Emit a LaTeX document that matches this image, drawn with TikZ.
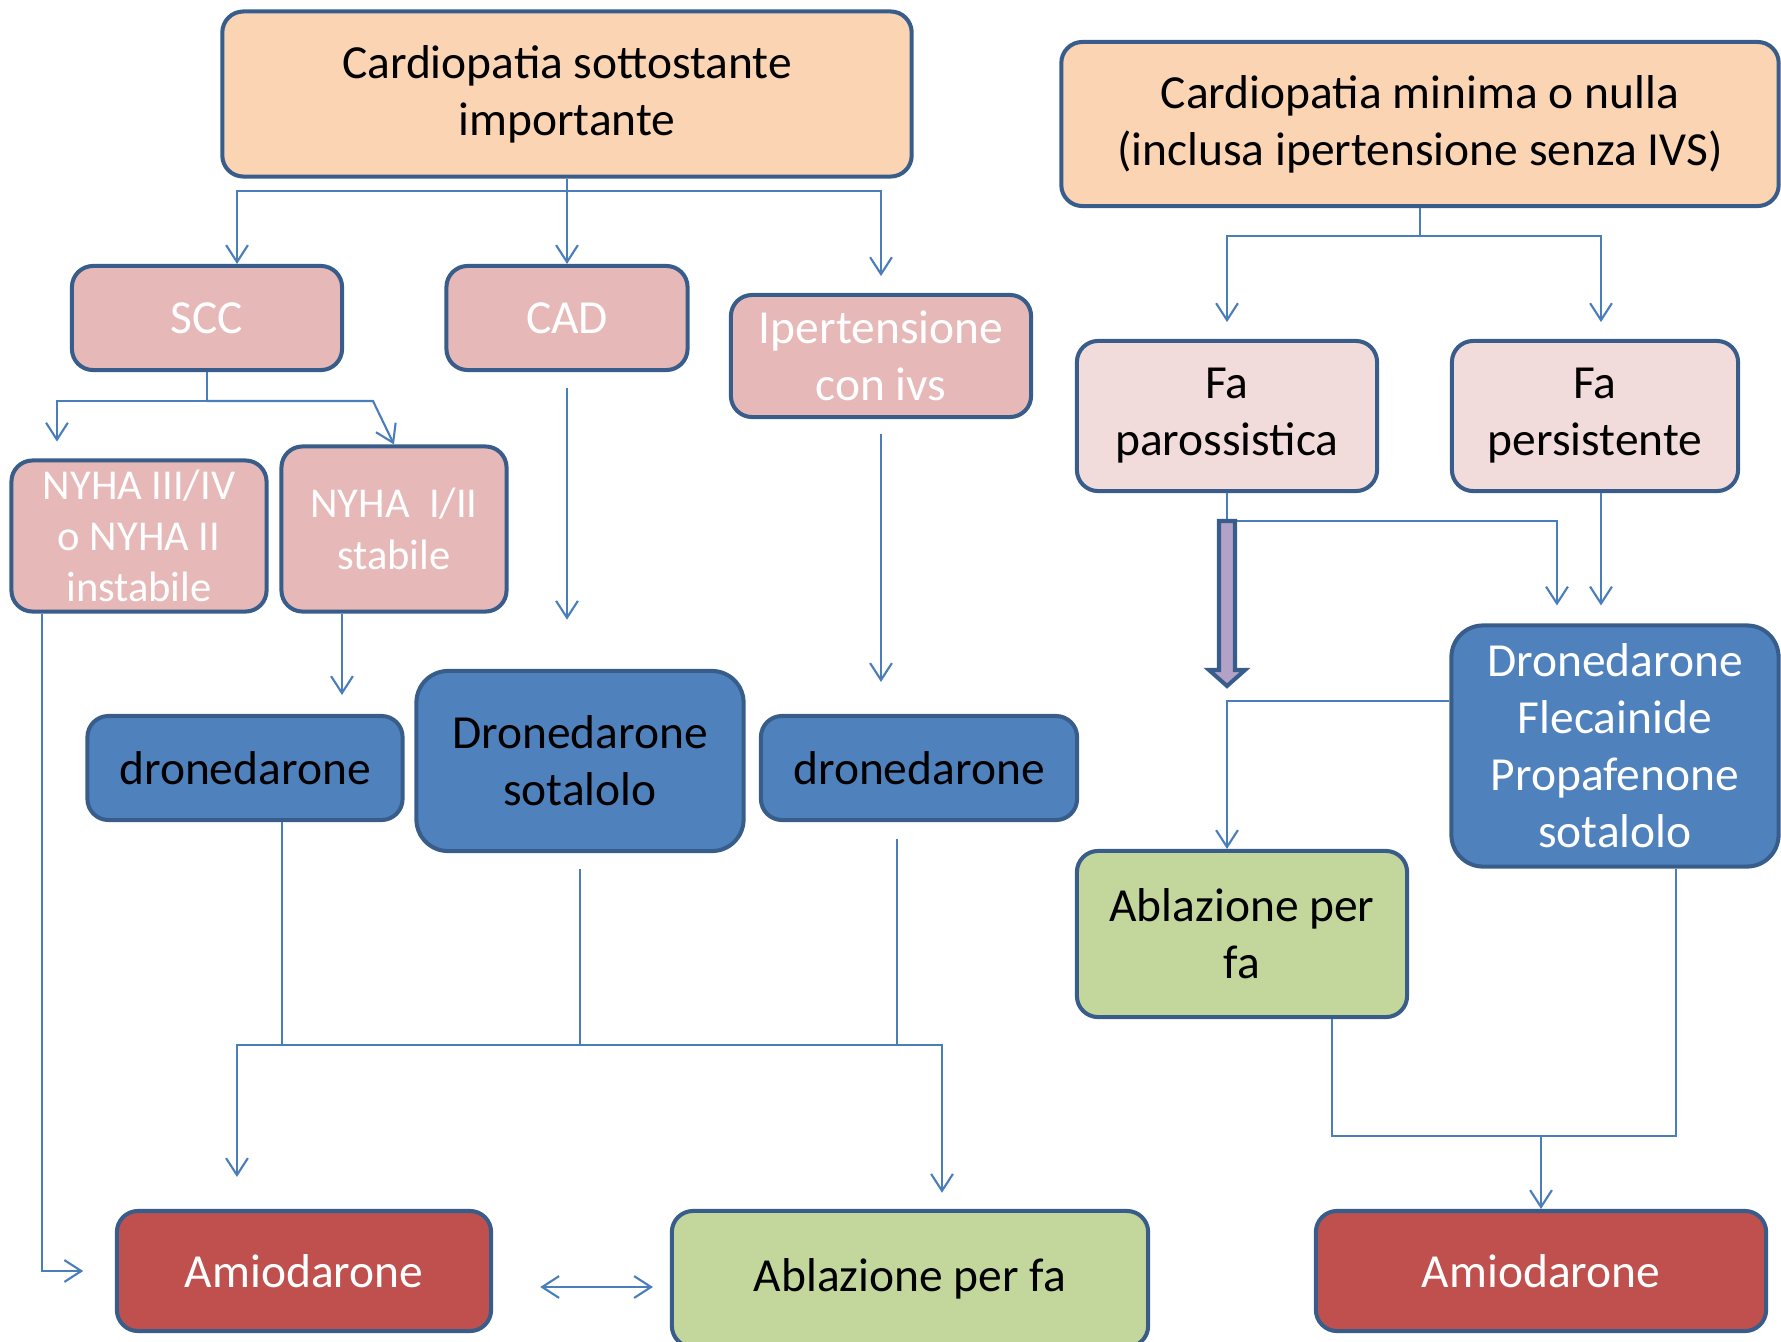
\documentclass[tikz,border=0pt]{standalone}
\usepackage{fontspec}
\setmainfont{Carlito}
\usepackage{xcolor}
\usetikzlibrary{calc, arrows.meta, positioning}

\definecolor{bordo}{HTML}{385D8A}
\definecolor{linea}{HTML}{4A7EBB}
\definecolor{pesca}{HTML}{FBD4B4}
\definecolor{rosa}{HTML}{E6B9B8}
\definecolor{rosachiaro}{HTML}{F2DCDB}
\definecolor{blu}{HTML}{4F81BD}
\definecolor{verde}{HTML}{C3D69B}
\definecolor{rosso}{HTML}{C0504D}
\definecolor{viola}{HTML}{B3A2C7}

\begin{document}
\begin{tikzpicture}[x=0.01cm, y=-0.01cm, >={Straight Barb[length=4.8pt,width=6.2pt]}, font=\fontsize{13.5}{16.2}\selectfont]
		\tikzstyle{box} = [draw=bordo, line width=1.15pt, rounded corners=6pt, align=center, inner sep=0pt]
		\tikzstyle{peach} = [box, fill=pesca]
		\tikzstyle{pink} = [box, fill=rosa, text=white]
		\tikzstyle{lpink} = [box, fill=rosachiaro]
		\tikzstyle{blue} = [box, fill=blu]
		\tikzstyle{green} = [box, fill=verde]
		\tikzstyle{red} = [box, fill=rosso, text=white]
		\tikzstyle{line} = [draw=linea, line width=0.6pt]
		\tikzstyle{arrow} = [line, ->]
		\tikzstyle{fat} = [draw=bordo, line width=1.15pt, fill=viola, line join=miter]

		\useasboundingbox (0,0) rectangle (1781,1342);

		\node[peach, minimum width=6.89cm, minimum height=1.65cm] at (567, 94) (c1) {Cardiopatia sottostante\\importante};
		\node[peach, minimum width=7.17cm, minimum height=1.64cm] at (1420, 124) (c2) {Cardiopatia minima o nulla\\(inclusa ipertensione senza IVS)};

		\node[pink, minimum width=2.70cm, minimum height=1.04cm] at (207, 318) (scc) {SCC};
		\node[pink, minimum width=2.41cm, minimum height=1.04cm] at (567, 318) (cad) {CAD};
		\node[pink, minimum width=3.00cm, minimum height=1.22cm] at (881, 356) (ip) {Ipertensione\\con ivs};
		\node[lpink, minimum width=3.00cm, minimum height=1.50cm] at (1227, 416) (fpar) {Fa\\parossistica};
		\node[lpink, minimum width=2.86cm, minimum height=1.50cm] at (1595, 416) (fper) {Fa\\persistente};

		\node[pink, minimum width=2.55cm, minimum height=1.51cm, font=\fontsize{12.1}{14.6}\selectfont] at (139, 536) (ny1) {NYHA III/IV\\o NYHA II\\instabile};
		\node[pink, minimum width=2.25cm, minimum height=1.65cm, font=\fontsize{12.1}{14.6}\selectfont] at (394, 529) (ny2) {NYHA~~I/II\\stabile};

		\node[blue, minimum width=3.15cm, minimum height=1.04cm] at (245, 768) (dr1) {dronedarone};
		\node[blue, minimum width=3.27cm, minimum height=1.80cm, rounded corners=9pt] at (580, 761) (dsot) {Dronedarone\\sotalolo};
		\node[blue, minimum width=3.16cm, minimum height=1.04cm] at (919, 768) (dr2) {dronedarone};
		\node[blue, minimum width=3.27cm, minimum height=2.41cm, rounded corners=9pt, text=white] at (1615, 746) (dfl) {Dronedarone\\Flecainide\\Propafenone\\sotalolo};
		\node[green, minimum width=3.30cm, minimum height=1.66cm] at (1242, 934) (abl1) {Ablazione per\\fa};

		\node[red, minimum width=3.74cm, minimum height=1.20cm] at (304, 1271) (am1) {Amiodarone};
		\node[green, minimum width=4.76cm, minimum height=1.36cm] at (910, 1279) (abl2) {Ablazione per fa};
		\node[red, minimum width=4.50cm, minimum height=1.20cm] at (1541, 1271) (am2) {Amiodarone};

		\coordinate (j1) at (567, 191);
		\coordinate (j2) at (207, 401);
		\coordinate (j3) at (580, 1045);
		\coordinate (j4) at (1420, 236);
		\coordinate (j5) at (1227, 521);
		\coordinate (j6) at (1541, 1136);

		\draw [line] (c1) -- (j1);
		\draw [arrow] (j1) -| ([xshift=0.3cm]scc.north);
		\draw [arrow] (j1) -- (cad);
		\draw [arrow, shorten >=4.8pt] (j1) -| (ip);

		\draw [line] (scc) -- (j2);
		\draw [arrow, shorten >=4.8pt] (j2) -| ([xshift=-0.82cm]ny1.north);
		\draw [arrow] (j2) -- ++(166, 0) -- (ny2.north);

		\draw [arrow, shorten >=9pt] ([xshift=-0.97cm]ny1.south) |- (am1.west);
		\draw [arrow, shorten >=5.4pt] ([xshift=-0.52cm]ny2.south) -- ([xshift=-0.52cm]ny2.south |- dr1.north);
		\draw [arrow, shorten <=4.6pt, shorten >=14pt] (cad.south) -- (cad.south |- dsot.north);
		\draw [arrow, shorten <=4.3pt, shorten >=9.1pt] (ip.south) -- (ip.south |- dr2.north);

		\draw [line] ([xshift=0.37cm]dr1.south) |- (j3);
		\draw [line, shorten <=4.6pt] (dsot.south) -- (j3);
		\draw [line, shorten <=4.8pt] ([xshift=-0.22cm]dr2.south) |- (j3);
		\draw [arrow, shorten >=9.1pt] (j3) -| ([xshift=-0.67cm]am1.north);
		\draw [arrow, shorten >=4.6pt] (j3) -| ([xshift=0.32cm]abl2.north);

		\draw [line, <->, shorten <=13.4pt, shorten >=4.8pt] ([yshift=-0.16cm]am1.east) -- ([yshift=-0.16cm]am1.east -| abl2.west);

		\draw [line] (c2) -- (j4);
		\draw [arrow, shorten >=4.8pt] (j4) -| (fpar);
		\draw [arrow, shorten >=4.8pt] (j4) -| ([xshift=0.06cm]fper.north);

		\draw [line] (fpar) -- (j5);
		\draw [arrow, shorten >=5.1pt] (j5) -| ([xshift=-0.58cm]dfl.north);
		\draw [arrow, shorten >=5.1pt] ([xshift=0.06cm]fper.south) -- ([xshift=0.06cm]fper.south |- dfl.north);

		\draw [fat] (1219, 521) -- (1219, 670) -- (1209, 670) -- (1227, 686) -- (1245, 670) -- (1235, 670) -- (1235, 521) -- cycle;

		\draw [arrow] ([yshift=0.45cm]dfl.west) -| ([xshift=-0.15cm]abl1.north);
		\draw [line] ([xshift=0.9cm]abl1.south) |- (j6);
		\draw [line] ([xshift=0.61cm]dfl.south) |- (j6);
		\draw [arrow] (j6) -- (am2);
	\end{tikzpicture}
\end{document}
